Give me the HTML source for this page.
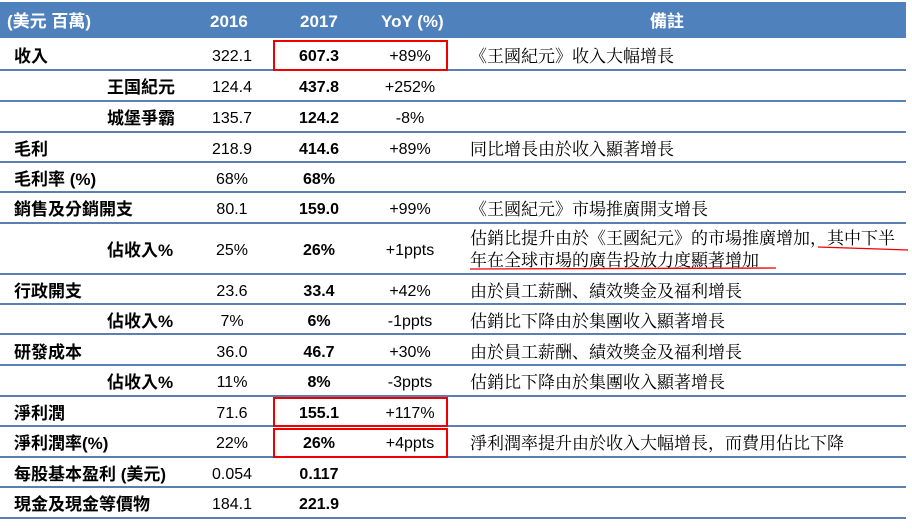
<!DOCTYPE html>
<html><head><meta charset="utf-8"><style>
body{margin:0;background:#fff;width:912px;height:529px;position:relative;overflow:hidden;font-family:"Liberation Sans","Noto Sans CJK TC",sans-serif;}
.hdr{position:absolute;left:0;top:2px;width:906px;height:36px;background:#4f81bd;color:#fff;font-weight:bold;font-size:17px;}
.hdr span{position:absolute;top:10px;line-height:20px;height:20px;}
.line{position:absolute;left:0;width:906px;height:2px;background:#5b7fb3;}
.t{position:absolute;font-size:16px;line-height:20px;height:20px;color:#000;white-space:nowrap;margin-top:3px;}
.l{font-size:17px;font-weight:bold;}
.b{font-weight:bold;}
.c{transform:translateX(-50%);}
.n{font-family:"Liberation Serif","Noto Serif CJK SC","WenQuanYi Zen Hei",serif;font-size:17px;}
.box{position:absolute;border:2px solid #e00;box-sizing:border-box;}
</style></head><body>
<div class="hdr"><span style="left:7px">(美元 百萬)</span><span style="left:210px">2016</span><span style="left:300px">2017</span><span style="left:381px">YoY (%)</span><span style="left:650px">備註</span></div>
<div class="line" style="top:69px"></div>
<div class="line" style="top:100px"></div>
<div class="line" style="top:131px"></div>
<div class="line" style="top:161px"></div>
<div class="line" style="top:191px"></div>
<div class="line" style="top:222px"></div>
<div class="line" style="top:273px"></div>
<div class="line" style="top:303px"></div>
<div class="line" style="top:333px"></div>
<div class="line" style="top:364px"></div>
<div class="line" style="top:395px"></div>
<div class="line" style="top:425px"></div>
<div class="line" style="top:456px"></div>
<div class="line" style="top:486px"></div>
<div class="line" style="top:517px"></div>

<div class="t l" style="left:14px;top:44px">收入</div>
<div class="t c" style="left:232px;top:44px">322.1</div>
<div class="t b c" style="left:319px;top:44px">607.3</div>
<div class="t c" style="left:410px;top:44px">+89%</div>
<div class="t n" style="left:470px;top:44px">《王國紀元》收入大幅增長</div>

<div class="t l" style="left:107px;top:75px">王国紀元</div>
<div class="t c" style="left:232px;top:75px">124.4</div>
<div class="t b c" style="left:319px;top:75px">437.8</div>
<div class="t c" style="left:410px;top:75px">+252%</div>

<div class="t l" style="left:107px;top:106px">城堡爭霸</div>
<div class="t c" style="left:232px;top:106px">135.7</div>
<div class="t b c" style="left:319px;top:106px">124.2</div>
<div class="t c" style="left:410px;top:106px">-8%</div>

<div class="t l" style="left:14px;top:137px">毛利</div>
<div class="t c" style="left:232px;top:137px">218.9</div>
<div class="t b c" style="left:319px;top:137px">414.6</div>
<div class="t c" style="left:410px;top:137px">+89%</div>
<div class="t n" style="left:470px;top:137px">同比增長由於收入顯著增長</div>

<div class="t l" style="left:14px;top:167px">毛利率 (%)</div>
<div class="t c" style="left:232px;top:167px">68%</div>
<div class="t b c" style="left:319px;top:167px">68%</div>

<div class="t l" style="left:14px;top:197px">銷售及分銷開支</div>
<div class="t c" style="left:232px;top:197px">80.1</div>
<div class="t b c" style="left:319px;top:197px">159.0</div>
<div class="t c" style="left:410px;top:197px">+99%</div>
<div class="t n" style="left:470px;top:197px">《王國紀元》市場推廣開支增長</div>

<div class="t l" style="left:107px;top:238px">佔收入%</div>
<div class="t c" style="left:232px;top:238px">25%</div>
<div class="t b c" style="left:319px;top:238px">26%</div>
<div class="t c" style="left:410px;top:238px">+1ppts</div>
<div class="t n" style="left:470px;top:226px">估銷比提升由於《王國紀元》的市場推廣增加，其中下半</div>
<div class="t n" style="left:470px;top:248px">年在全球市場的廣告投放力度顯著增加</div>
<svg style="position:absolute;left:0;top:0" width="912" height="529"><path d="M818 247 L908 250" stroke="#e00" stroke-width="1.3" fill="none"/><path d="M470 269 L776 268" stroke="#e00" stroke-width="1.3" fill="none"/></svg>

<div class="t l" style="left:14px;top:279px">行政開支</div>
<div class="t c" style="left:232px;top:279px">23.6</div>
<div class="t b c" style="left:319px;top:279px">33.4</div>
<div class="t c" style="left:410px;top:279px">+42%</div>
<div class="t n" style="left:470px;top:279px">由於員工薪酬、績效獎金及福利增長</div>

<div class="t l" style="left:107px;top:309px">佔收入%</div>
<div class="t c" style="left:232px;top:309px">7%</div>
<div class="t b c" style="left:319px;top:309px">6%</div>
<div class="t c" style="left:410px;top:309px">-1ppts</div>
<div class="t n" style="left:470px;top:309px">估銷比下降由於集團收入顯著增長</div>

<div class="t l" style="left:14px;top:340px">研發成本</div>
<div class="t c" style="left:232px;top:340px">36.0</div>
<div class="t b c" style="left:319px;top:340px">46.7</div>
<div class="t c" style="left:410px;top:340px">+30%</div>
<div class="t n" style="left:470px;top:340px">由於員工薪酬、績效獎金及福利增長</div>

<div class="t l" style="left:107px;top:370px">佔收入%</div>
<div class="t c" style="left:232px;top:370px">11%</div>
<div class="t b c" style="left:319px;top:370px">8%</div>
<div class="t c" style="left:410px;top:370px">-3ppts</div>
<div class="t n" style="left:470px;top:370px">估銷比下降由於集團收入顯著增長</div>

<div class="t l" style="left:14px;top:401px">淨利潤</div>
<div class="t c" style="left:232px;top:401px">71.6</div>
<div class="t b c" style="left:319px;top:401px">155.1</div>
<div class="t c" style="left:410px;top:401px">+117%</div>

<div class="t l" style="left:14px;top:431px">淨利潤率(%)</div>
<div class="t c" style="left:232px;top:431px">22%</div>
<div class="t b c" style="left:319px;top:431px">26%</div>
<div class="t c" style="left:410px;top:431px">+4ppts</div>
<div class="t n" style="left:470px;top:431px">淨利潤率提升由於收入大幅增長，而費用佔比下降</div>

<div class="t l" style="left:14px;top:462px">每股基本盈利 (美元)</div>
<div class="t c" style="left:232px;top:462px">0.054</div>
<div class="t b c" style="left:319px;top:462px">0.117</div>

<div class="t l" style="left:14px;top:492px">現金及現金等價物</div>
<div class="t c" style="left:232px;top:492px">184.1</div>
<div class="t b c" style="left:319px;top:492px">221.9</div>

<div class="box" style="left:273px;top:40px;width:175px;height:31px"></div>
<div class="box" style="left:273px;top:397px;width:175px;height:30px"></div>
<div class="box" style="left:273px;top:428px;width:175px;height:30px"></div>
</body></html>
